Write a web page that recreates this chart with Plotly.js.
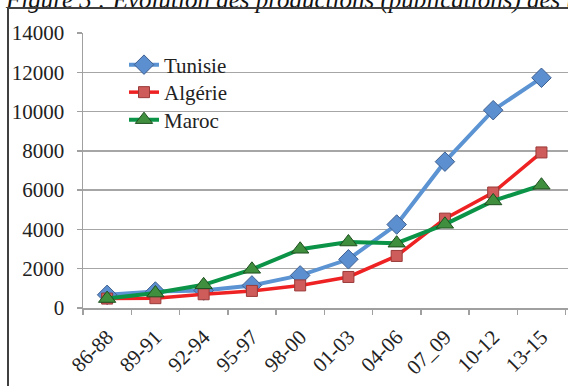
<!DOCTYPE html>
<html>
<head>
<meta charset="utf-8">
<script src="https://cdn.plot.ly/plotly-3.0.1.min.js"></script>
<style>html,body{margin:0;padding:0;background:#fff;overflow:hidden}
#wrap{position:relative;width:568px;height:386px;overflow:hidden}
#frame{position:absolute;left:7px;top:7px;width:600px;height:420px;border:2px solid #404040;pointer-events:none}</style>
</head>
<body>
<div id="wrap">
<div id="chart" style="width:568px;height:386px"></div>
<div id="frame"></div>
</div>
<script>
const periods = ["86-88","89-91","92-94","95-97","98-00","01-03","04-06","07_09","10-12","13-15"];
const tunisie = [670, 840, 890, 1150, 1660, 2480, 4250, 7450, 10070, 11720];
const algerie = [480, 500, 700, 870, 1150, 1580, 2650, 4550, 5880, 7920];
const maroc   = [480, 760, 1180, 1970, 2990, 3360, 3300, 4260, 5450, 6250];
const titleText = "Figure 3 : Évolution des productions (publications) des trois pays";

const W = 568, H = 386, L = 83, T = 33, B = 78;
const plotW = W - L, plotH = H - T - B;
const serif = "Liberation Serif";
const px = v => (v - L) / plotW;
const py = v => 1 - (v - T) / plotH;

const traces = [
  {name:"Tunisie", legend:"legend", x:periods, y:tunisie, type:"scatter", mode:"lines+markers",
   line:{color:"#5B93D3", width:4},
   marker:{symbol:"diamond", size:15, color:"#5B8FD0", line:{color:"#3F5F8F", width:1}}},
  {name:"Algérie", legend:"legend2", x:periods, y:algerie, type:"scatter", mode:"lines+markers",
   line:{color:"#EE2222", width:3.5},
   marker:{symbol:"square", size:11, color:"#CD5C5A", line:{color:"#9A3A38", width:1}}},
  {name:"Maroc", legend:"legend3", x:periods, y:maroc, type:"scatter", mode:"lines+markers",
   line:{color:"#0B9447", width:4},
   marker:{symbol:"triangle-up", size:15, color:"#3F8F3F", line:{color:"#1F4F1F", width:1}}}
];

function leg(yc) {
  return {x:px(124), xanchor:"left", y:py(yc), yanchor:"middle",
          bgcolor:"rgba(0,0,0,0)", borderwidth:0,
          font:{family:serif, size:21, color:"#222"}};
}

const layout = {
  width:W, height:H,
  margin:{l:L, r:0, t:T, b:B, pad:0},
  paper_bgcolor:"#fff", plot_bgcolor:"#fff",
  font:{family:serif, size:21, color:"#222"},
  showlegend:true,
  legend:leg(65), legend2:leg(92.5), legend3:leg(120),
  xaxis:{type:"category", range:[-0.5, 9.55], showgrid:false, zeroline:false,
         showline:true, linecolor:"#A0A0A0", linewidth:1.5,
         ticks:"outside", tickson:"boundaries", ticklen:5, tickcolor:"#A0A0A0", tickwidth:1.5,
         tickangle:-45, ticklabelstandoff:7, tickfont:{family:serif, size:21, color:"#222"}},
  yaxis:{range:[0,14000], dtick:2000, tickformat:"d", showgrid:true, gridcolor:"#A6A6A6", gridwidth:1.5,
         zeroline:false, showline:true, linecolor:"#A0A0A0", linewidth:1.5,
         ticks:"outside", ticklen:5, tickcolor:"#A0A0A0", tickwidth:1.5,
         ticklabelstandoff:8, tickfont:{family:serif, size:21, color:"#222"}},
  annotations:[{text:titleText, xref:"paper", yref:"paper", x:px(3), xanchor:"left",
                y:py(-0.5), yanchor:"middle", showarrow:false,
                font:{family:serif, size:25, color:"#111", style:"italic"}}]
};

Plotly.newPlot("chart", traces, layout, {displayModeBar:false, staticPlot:true});
</script>
</body>
</html>
